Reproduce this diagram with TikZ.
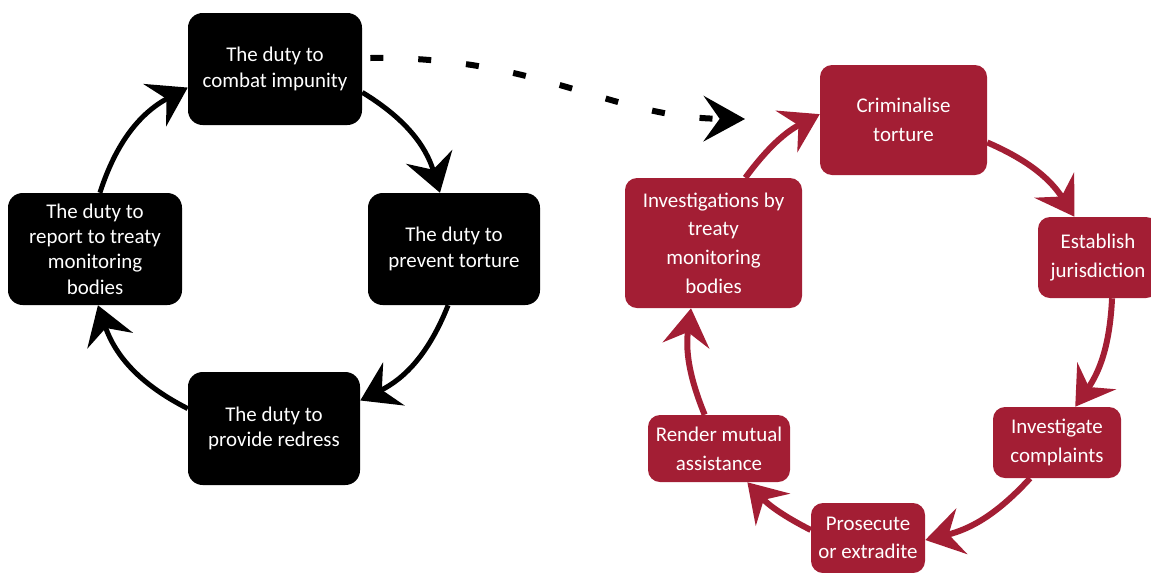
\documentclass[tikz,border=0pt]{standalone}
\usepackage{fontspec}
\setmainfont{Carlito}
\usetikzlibrary{arrows.meta}
\definecolor{crimsonbox}{RGB}{163,30,52}
\begin{document}
\begin{tikzpicture}[x=0.75pt,y=-0.75pt,
  sz/.style 2 args={minimum width=#1*0.75pt, minimum height=#2*0.75pt},
  box/.style={rounded corners=11pt, text=white, align=center, inner sep=0pt},
  dutybox/.style={box, fill=black, font=\fontsize{15.7}{19}\selectfont},
  stagebox/.style={box, fill=crimsonbox, rounded corners=9pt, font=\fontsize{15.7}{21.5}\selectfont},
  dutyarrow/.style={draw=black, line width=3.75pt,
    -{Stealth[length=28pt,width=36pt,inset=10pt]}},
  stagearrow/.style={draw=crimsonbox, line width=4.5pt,
    -{Stealth[length=28pt,width=35pt,inset=10pt]}},
  linkarrow/.style={draw=black, line width=4.5pt, dash pattern=on 9.75pt off 26.25pt,
    -{Stealth[length=31pt,width=34pt,inset=12pt]}}]
\path[use as bounding box] (0,0) rectangle (1151,572);

% the four duties
\node[dutybox, sz={174}{112}] (imp)  at (275,69)    {The duty to\\combat impunity};
\node[dutybox, sz={172}{112}] (prev) at (454,249)   {The duty to\\prevent torture};
\node[dutybox, sz={172}{113}] (redr) at (274,428.5) {The duty to\\provide redress};
\node[dutybox, sz={174}{112}] (rep)  at (95,249)    {The duty to\\report to treaty\\monitoring\\bodies};

\draw[dutyarrow] (imp.-15)  to[bend left=21] (prev.104);
\draw[dutyarrow] (prev.-96) to[bend left=21] (redr.18);
\draw[dutyarrow] (redr.167) to[bend left=22] (rep.-87);
\draw[dutyarrow] (rep.85)   to[bend left=22] (imp.192);

% the stages of combating impunity
\node[stagebox, sz={167}{110}] (crim) at (903.5,120)  {Criminalise\\torture};
\node[stagebox, sz={120}{81}]  (est)  at (1098,257.5) {Establish\\jurisdiction};
\node[stagebox, sz={128}{71}]  (inv)  at (1057,442.5) {Investigate\\complaints};
\node[stagebox, sz={114}{70}]  (pros) at (868,538)    {Prosecute\\or extradite};
\node[stagebox, sz={142}{67}]  (ren)  at (719,448.5)  {Render mutual\\assistance};
\node[stagebox, sz={177}{130}] (itb)  at (713.5,243)  {Investigations by\\treaty\\monitoring\\bodies};

\draw[stagearrow] (crim.-15) to[bend left=17] (est.120);
\draw[stagearrow] (est.-71)  to[bend left=16] (inv.63);
\draw[stagearrow] (inv.233)  to[bend left=17] (pros.-2);
\draw[stagearrow] (pros.172) to[bend left=10] (ren.-50);
\draw[stagearrow] (ren.113)  to[bend left=15] (itb.-109);
\draw[stagearrow] (itb.64)   to[bend left=13] (crim.176);

% link from the duty to combat impunity to its stages
\coordinate (linkend) at (745,119);
\draw[linkarrow] ([xshift=6pt,yshift=8.25pt]imp.east)
  .. controls +(170,-2) and +(-135,-1) .. (linkend);
\end{tikzpicture}
\end{document}
